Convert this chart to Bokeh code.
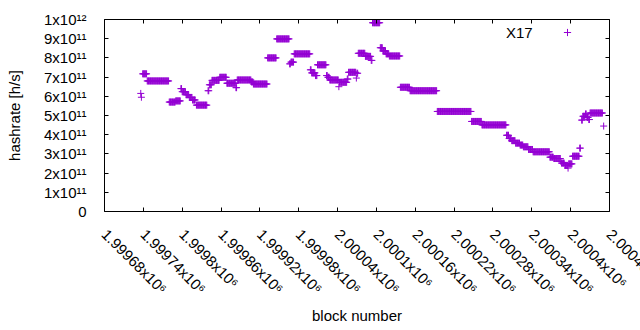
import math
import numpy as np
from bokeh.plotting import figure
from bokeh.models import (FixedTicker, LinearAxis, Range1d, Legend, LegendItem,
                          ColumnDataSource, CustomJSTickFormatter, Label)
from bokeh.embed import file_html
from bokeh.resources import INLINE

# ---------------- data ----------------
series_name = "X17"

# plateaus of the hashrate series: first block, last block, hashrate (x1e11 h/s)
seg_first = [1999736, 1999737, 1999739, 1999746, 1999780, 1999790, 1999798, 1999800,
             1999806, 1999811, 1999816, 1999822, 1999840, 1999842, 1999846, 1999858,
             1999869, 1999883, 1999885, 1999907, 1999910, 1999932, 1999946, 1999966,
             1999968, 1999973, 1999998, 2000000, 2000006, 2000009, 2000023, 2000025,
             2000028, 2000042, 2000043, 2000055, 2000057, 2000069, 2000070, 2000072,
             2000083, 2000092, 2000094, 2000106, 2000110, 2000115, 2000120, 2000137,
             2000152, 2000194, 2000247, 2000263, 2000301, 2000305, 2000309, 2000315,
             2000322, 2000327, 2000335, 2000342, 2000368, 2000374, 2000385, 2000386,
             2000391, 2000396, 2000397, 2000403, 2000414, 2000417, 2000419, 2000423,
             2000425, 2000428, 2000430, 2000451]
seg_last = [1999736, 1999737, 1999745, 1999779, 1999789, 1999797, 1999799, 1999805,
            1999810, 1999815, 1999820, 1999838, 1999841, 1999845, 1999857, 1999868,
            1999882, 1999884, 1999906, 1999909, 1999931, 1999945, 1999965, 1999967,
            1999972, 1999997, 1999999, 2000005, 2000008, 2000022, 2000024, 2000027,
            2000041, 2000042, 2000054, 2000056, 2000068, 2000069, 2000071, 2000082,
            2000091, 2000093, 2000105, 2000109, 2000114, 2000119, 2000136, 2000151,
            2000193, 2000246, 2000262, 2000300, 2000304, 2000308, 2000314, 2000321,
            2000326, 2000334, 2000341, 2000367, 2000373, 2000384, 2000385, 2000390,
            2000395, 2000396, 2000402, 2000413, 2000415, 2000418, 2000422, 2000424,
            2000427, 2000429, 2000449, 2000451]
seg_rate = [6.15, 5.95, 7.17, 6.80, 5.70, 5.76, 6.40, 6.24,
            6.08, 5.94, 5.81, 5.54, 6.29, 6.60, 6.83, 6.99,
            6.68, 6.45, 6.85, 6.75, 6.64, 8.00, 8.99, 7.69,
            7.78, 8.21, 7.38, 7.22, 7.08, 7.64, 7.08, 6.99,
            6.85, 6.50, 6.73, 6.90, 7.25, 6.95, 7.20, 8.24,
            8.08, 7.87, 9.83, 8.53, 8.36, 8.21, 8.10, 6.47,
            6.29, 5.21, 4.69, 4.51, 3.97, 3.80, 3.69, 3.56,
            3.46, 3.37, 3.23, 3.11, 2.83, 2.76, 2.60, 2.52,
            2.40, 2.26, 2.48, 2.88, 3.30, 4.76, 4.96, 5.08,
            4.90, 4.79, 5.13, 4.45]

x_ticks = [1999680, 1999740, 1999800, 1999860, 1999920, 1999980, 2000040,
           2000100, 2000160, 2000220, 2000280, 2000340, 2000400, 2000460]
x_tick_labels = ["1.99968x10\u2076", "1.99974x10\u2076", "1.9998x10\u2076",
                 "1.99986x10\u2076", "1.99992x10\u2076", "1.99998x10\u2076",
                 "2.00004x10\u2076", "2.0001x10\u2076", "2.00016x10\u2076",
                 "2.00022x10\u2076", "2.00028x10\u2076", "2.00034x10\u2076",
                 "2.0004x10\u2076", "2.00046x10\u2076"]
y_ticks = [0, 100000000000, 200000000000, 300000000000, 400000000000, 500000000000,
           600000000000, 700000000000, 800000000000, 900000000000, 1000000000000]
y_tick_labels = ["0", "1x10\u00b9\u00b9", "2x10\u00b9\u00b9", "3x10\u00b9\u00b9",
                 "4x10\u00b9\u00b9", "5x10\u00b9\u00b9", "6x10\u00b9\u00b9",
                 "7x10\u00b9\u00b9", "8x10\u00b9\u00b9", "9x10\u00b9\u00b9",
                 "1x10\u00b9\u00b2"]

# ---------------- build per-block points ----------------
blocks = np.concatenate([np.arange(a, b + 1) for a, b in zip(seg_first, seg_last)])
rates = np.concatenate([np.full(b - a + 1, r * 1e11)
                        for a, b, r in zip(seg_first, seg_last, seg_rate)])
src = ColumnDataSource(data=dict(block=blocks, rate=rates))

FONT = "Liberation Sans"
FS = "15px"
COLOR = "#9400d3"
X_LABEL_STANDOFF = 20

p = figure(frame_width=505, frame_height=192, output_backend="svg",
           toolbar_location=None,
           x_range=Range1d(x_ticks[0], x_ticks[-1]),
           y_range=Range1d(y_ticks[0], y_ticks[-1]),
           min_border_left=104, min_border_right=31, min_border_top=19,
           min_border_bottom=0)
p.grid.visible = False
p.outline_line_color = None
p.background_fill_color = "white"
p.border_fill_color = "white"

r = p.scatter("block", "rate", source=src, marker="cross", size=7,
              line_color=COLOR, line_width=1)

def style_axis(ax):
    ax.axis_line_color = "black"
    ax.axis_line_width = 1
    ax.major_tick_in = 4
    ax.major_tick_out = 0
    ax.minor_tick_in = 0
    ax.minor_tick_out = 0
    ax.major_tick_line_color = "black"
    ax.major_label_text_font = FONT
    ax.major_label_text_font_size = FS
    ax.major_label_text_color = "black"
    ax.axis_label_text_font = FONT
    ax.axis_label_text_font_size = FS
    ax.axis_label_text_font_style = "normal"
    ax.axis_label_text_color = "black"

# the last x tick label runs off the canvas (as in the reference); the axis
# would pull it back inside, so it is drawn as a separate label instead
x_overrides = dict(zip(x_ticks, x_tick_labels))
x_overrides[x_ticks[-1]] = ""

xa = p.xaxis[0]
xa.ticker = FixedTicker(ticks=x_ticks)
xa.major_label_overrides = x_overrides
xa.major_label_orientation = -math.pi / 4
xa.axis_label = "block number"
style_axis(xa)
xa.major_label_standoff = X_LABEL_STANDOFF
xa.axis_label_standoff = 1

ya = p.yaxis[0]
ya.ticker = FixedTicker(ticks=y_ticks)
ya.major_label_overrides = dict(zip(y_ticks, y_tick_labels))
ya.axis_label = "hashrate [h/s]"
style_axis(ya)
ya.major_label_standoff = 18
ya.axis_label_standoff = 18

for side, ticks in (("above", x_ticks), ("right", y_ticks)):
    ax = LinearAxis(ticker=FixedTicker(ticks=ticks),
                    formatter=CustomJSTickFormatter(code="return ''"))
    style_axis(ax)
    ax.major_label_text_font_size = "0px"
    ax.major_label_standoff = 0
    p.add_layout(ax, side)

p.add_layout(Label(x=x_ticks[-1], y=y_ticks[0], x_units="data", y_units="data",
                   y_offset=-X_LABEL_STANDOFF, angle=-math.pi / 4,
                   text=x_tick_labels[-1], text_font=FONT, text_font_size=FS,
                   text_color="black", text_align="left", text_baseline="middle"),
             "below")

common = dict(padding=0, margin=0, border_line_alpha=0, background_fill_alpha=0,
              label_text_font=FONT, label_text_font_size=FS,
              label_text_color="black", spacing=0)
leg_text = Legend(items=[LegendItem(label=series_name, renderers=[r])],
                  location=(402, 169), glyph_width=0, glyph_height=20,
                  label_height=20, label_standoff=0, **common)
leg_mark = Legend(items=[LegendItem(label="", renderers=[r])],
                  location=(454, 170), glyph_width=18, glyph_height=18,
                  label_height=18, label_width=0, label_standoff=0, **common)
p.add_layout(leg_text)
p.add_layout(leg_mark)

open("out.html", "w").write(file_html(p, INLINE))
